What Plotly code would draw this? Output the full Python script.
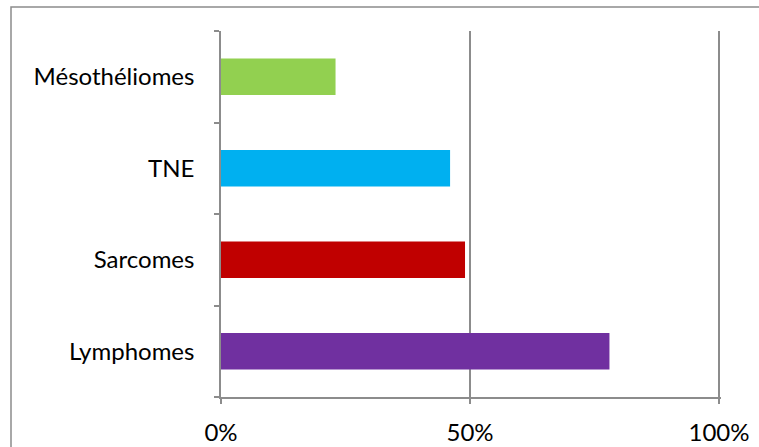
import plotly.graph_objects as go

# Share of cases per tumour type (%), listed bottom to top
categories = ["Lymphomes", "Sarcomes", "TNE", "Mésothéliomes"]
values = [78, 49, 46, 23]
bar_colors = ["#7030A0", "#C00000", "#00B0F0", "#92D050"]
x_ticks = [0, 50, 100]

W, H = 759, 447
L, R, T, B = 221, 38, 31, 50
plot_w = W - L - R
plot_h = H - T - B

def px_to_paper_x(px):
    return (px - L) / plot_w

def px_to_paper_y(py):
    return (H - B - py) / plot_h

grey = "#8C8C8C"

fig = go.Figure(
    go.Bar(
        x=values,
        y=categories,
        orientation="h",
        marker=dict(color=bar_colors, line=dict(width=0)),
        hoverinfo="x+y",
    )
)

fig.update_layout(
    width=W,
    height=H,
    margin=dict(l=L, r=R, t=T, b=B, autoexpand=False),
    paper_bgcolor="white",
    plot_bgcolor="white",
    bargap=0.6,
    showlegend=False,
    font=dict(family="Lato, Calibri, sans-serif", size=24, color="#000000"),
    xaxis=dict(
        # a little headroom so the 100% gridline stays inside the plot area
        range=[0, 100.4],
        tickvals=x_ticks,
        ticktext=[f"{v}%" for v in x_ticks],
        showgrid=True,
        gridcolor=grey,
        gridwidth=1.5,
        zeroline=False,
        showline=True,
        linecolor=grey,
        linewidth=1.5,
        ticks="outside",
        ticklen=5,
        tickcolor=grey,
        tickwidth=1.5,
        ticklabelstandoff=8,
        automargin=False,
        fixedrange=True,
    ),
    yaxis=dict(
        type="category",
        categoryorder="array",
        categoryarray=categories,
        showgrid=False,
        showline=True,
        linecolor=grey,
        linewidth=1.5,
        ticks="outside",
        tickson="boundaries",
        ticklen=5,
        tickcolor=grey,
        tickwidth=1.5,
        ticklabelstandoff=20,
        automargin=False,
        fixedrange=True,
    ),
    shapes=[
        dict(
            type="rect",
            xref="paper",
            yref="paper",
            x0=px_to_paper_x(11),
            x1=px_to_paper_x(W + 20),
            y0=px_to_paper_y(H + 20),
            y1=px_to_paper_y(7),
            line=dict(color=grey, width=1.5),
            fillcolor="rgba(0,0,0,0)",
            layer="above",
        )
    ],
)

fig.write_html("out.html")
